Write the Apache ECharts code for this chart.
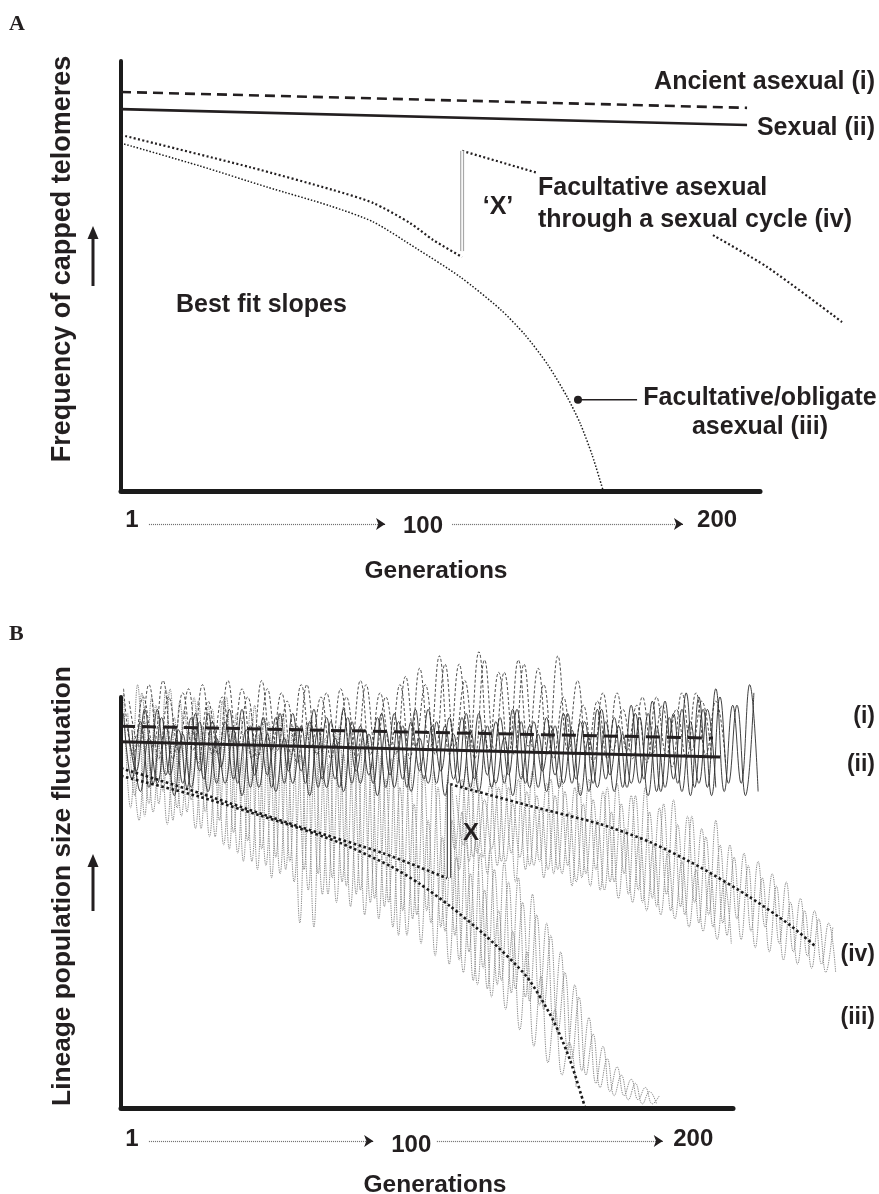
<!DOCTYPE html>
<html><head><meta charset="utf-8">
<script src="https://cdn.jsdelivr.net/npm/echarts@6.0.0/dist/echarts.min.js"></script>
<style>html,body{margin:0;padding:0;background:#fff}#c{width:879px;height:1194px}</style>
</head><body><div id="c"></div>
<script>
// ---------- data ----------
const genTicks = [1, 100, 200];

// Panel A : best-fit slopes [generation, frequency]
const aAncient  = [[-2.7, 92.8], [210.2, 89.1]];
const aSexual   = [[-2.7, 88.8], [210.2, 85.1]];
const aObligate = [[-2.7,80.9],[24.1,75.6],[46.9,70.7],[68.4,66.3],[83.0,62.6],[98.0,56.3],[112.6,49.8],[126.2,42.3],[134.7,36.3],[142.5,29.3],[149.0,21.9],[153.4,15.8],[157.5,8.4],[161.2,0.2]];
const aFacPre   = [[-2.7,82.8],[41.2,75.3],[69.4,70.0],[83.0,67.0],[95.6,62.3],[103.4,58.4],[113.3,54.4]];
const aFacPost1 = [[113.3,79.1],[138.8,74.0]];
const aFacPost2 = [[198.6,59.5],[217.0,52.1],[242.5,39.3]];
const aJumpX    = [[113.3,79.1],[113.3,55.8]];
const aPointer  = [[152.7,21.2],[172.8,21.2]];

// Panel B : best-fit slopes
const bAncient  = [[-2.9,92.9],[207.0,90.0]];
const bSexual   = [[-2.9,89.1],[209.5,85.4]];
const bFacPre   = [[-2.9,82.7],[25.1,76.6],[60.6,68.4],[90.0,62.0],[112.7,55.9]];
const bFacPost  = [[113.8,78.8],[142.1,73.5],[166.9,69.1],[184.7,64.7],[202.4,58.6],[220.1,51.3],[234.3,44.5],[243.2,39.4]];
const bObligate = [[-2.9,80.8],[25.1,75.7],[53.5,69.6],[74.8,64.5],[92.5,58.9],[103.1,54.5],[113.8,49.1],[126.9,41.6],[141.0,31.9],[150.3,21.4],[156.3,11.7],[161.6,0.2]];
const bJumpX    = [[113.4,78.8],[113.4,56.0]];

// Panel B : lineage fluctuation traces (one per half-cycle)
const solid1 = [96,80,94,78,97,81,93,79,95,82, 96,79,94,80,97,78,93,81,95,79, 96,82,94,78,95,80,97,79,93,81, 95,78,96,80,94,82,97,79,93,80, 95,78,96,81,94,79,97,80,93,78, 95,81,96,79,94,77,97,80,95,78, 98,79,96,77,99,80,97,76,100,78, 102,77,98,79,103,77];
const solid2 = [93,82,97,79,95,81,92,78,96,80, 94,83,97,79,92,81,95,78,96,82, 93,79,97,80,94,78,95,82,92,79, 96,81,94,78,97,80,93,82,95,79, 96,80,92,78,95,81,97,79,94,82, 93,78,96,80,94,79,97,81,93,78, 96,80,99,77,95,79,101,78,97,76, 100,79,98,76,101];
const solid3 = [92,77,90,79,93,76,91,78,94,77, 90,79,92,76,93,78,91,77,90,79, 93,76,92,78,90,77,94,79,91,76, 92,78,93,77,90,79,94,76,91,78, 92,77,93,79,90,76,94,78,91,77, 93,79,92,76,90,78,94,77,91,79, 95,76,93,78,96,77,94,79,97,78];
const dash1 = [102,86,100,88,104,85,101,87,103,86, 100,88,102,85,104,87,101,86,103,88, 100,85,102,87,104,86,101,88,103,85, 107,87,110,86,108,88,111,87,106,86, 109,88,107,86,110,87,104, 86,99,85,101,87,98,84,100,86,97,85,101,86,99,84];
const dash2 = [99,88,103,85,100,87,102,84,99,86, 104,88,100,85,102,87,99,84,103,86, 101,88,100,85,103,87,100,86,105,88, 103,86,108,88,104,85,109,87,106,86, 108,87,103,85,100,86,98,84,101,87, 97,85,100,86,98,83,101,87,99,85];
const obl1 = [101,73,103,71,100,74,102,70,99,72, 100,68,98,66,99,63,96,60,97,58, 95,56,96,58,93,45,94,44,91,52, 92,55,89,52,90,50,87,49,85,42, 86,46,84,48,82,44,80,42,72,38, 66,34,63,30,60,28,56,27,52,25, 45,20,38,14,30,9,22,6,15,4, 10,3,7,2,5,1,3];
const obl2 = [96,76,101,74,98,77,102,73,97,75, 99,72,97,70,100,67,95,65,98,63, 94,61,96,60,92,58,95,57,90,56, 93,54,88,53,91,51,86,50,88,48, 83,47,81,45,78,43,70,36,66,31, 62,29,58,31,55,29,50,26,47,24, 42,18,33,12,27,8,18,5,12,3, 8,2,6,1,4,1];
const obl3 = [90,70,94,72,91,69,95,71,92,68, 93,66,90,64,92,62,89,60,91,59, 88,57,90,55,86,53,88,52,84,50, 86,49,82,47,84,46,80,44,78,42, 74,40,70,37,66,35,61,33,57,30, 53,27,48,24,43,19,38,15,32,11, 24,8,16,5];
const fac1 = [81,63,80,60,82,61,79,59,81,62, 80,58,82,60,79,57,81,59,78,56, 80,58,77,55,79,57,76,53,78,51, 73,52,75,49,71,50,68,47,70,45, 64,46,62,43,60,44,57,40,55,38, 51,37,48,35,45,33];
const fac2 = [78,58,83,61,77,57,80,60,78,55, 82,59,76,56,80,58,77,54,79,57, 75,53,78,55,74,52,76,50,72,49, 74,48,69,47,71,45,66,44,64,42, 61,41,59,39,56,38,54,36,50,35, 48,34,46,33,44];
const fac3 = [76,64,79,62,75,63,78,60,74,61, 77,59,73,58,76,57,72,55,74,54, 70,53,72,51,68,50,66,48,64,47, 62,46,60,44,58,43,57,41,55,40];
// first generation and generation step of each trace
const traceStart = {solid1:-2, solid2:-0.5, solid3:1, dash1:-2, dash2:0, obl1:-2, obl2:-0.5, obl3:1, fac1:113, fac2:114.5, fac3:116};
const traceStep  = {solid1:3, solid2:3, solid3:3, dash1:3.5, dash2:3.5, obl1:2.5, obl2:2.5, obl3:2.5, fac1:2.5, fac2:2.5, fac3:2.5};

// generation spans of the dotted arrows between tick labels
const arrowSpansA = [[6.8, 87.1], [109.9, 188.4]];
const arrowSpansB = [[7.0, 86.5], [109.1, 189.2]];

// ---------- chart ----------
const FONT = '"Liberation Sans", Arial, Helvetica, sans-serif';
const INK = '#231f20';
const chart = echarts.init(document.getElementById('c'), null, {renderer: 'canvas'});

// axis scales
const A_MIN = -2.7, A_MAX = 214.6, B_MIN = -2.9, B_MAX = 214.1, DATA_MAX = 255, B_VMAX = 115;
const A_LEFT = 121, A_TOP = 61, A_W = 639, A_H = 430;
const B_LEFT = 121, B_TOP = 697, B_W = 612, B_H = 411;
const aPx = A_W / (A_MAX - A_MIN), bPx = B_W / (B_MAX - B_MIN);

function trace(name, vals) {
  const s = traceStart[name], st = traceStep[name];
  return vals.map((v, i) => [s + st * i, v]);
}
const GA = 4, GB = 5; // data grids (same scales as the drawn axes, but not clipped at the axis end)
function L(data, gi, lineStyle, extra) {
  return Object.assign({type: 'line', xAxisIndex: gi, yAxisIndex: gi, data: data, symbol: 'none', showSymbol: false,
    clip: false, silent: true, animation: false, lineStyle: lineStyle, z: 5}, extra || {});
}
function T(x, y, text, size, align, extra) {
  return {type: 'text', x: x, y: y, silent: true, z: 50, style: Object.assign({text: text, fill: INK,
    font: 'bold ' + size + 'px ' + FONT, align: align, textAlign: align, verticalAlign: 'middle', textVerticalAlign: 'middle'}, extra || {})};
}
function upArrow(x, yTail, yTip) {
  return [
    {type: 'line', silent: true, shape: {x1: x, y1: yTail, x2: x, y2: yTip + 12}, style: {stroke: INK, lineWidth: 3}},
    {type: 'polygon', silent: true, shape: {points: [[x - 5.5, yTip + 13], [x + 5.5, yTip + 13], [x, yTip]]}, style: {fill: INK}}
  ];
}
function mainX(gi, min, max, margin) {
  return {gridIndex: gi, type: 'value', min: min, max: max,
    axisLine: {show: true, onZero: false, lineStyle: {color: '#1b1b1b', width: 5}},
    axisTick: {show: false}, splitLine: {show: false},
    axisLabel: {show: true, customValues: genTicks, margin: margin, color: INK, fontSize: 24, fontWeight: 'bold', fontFamily: FONT,
      formatter: v => (v === 100 ? '{lo|100}' : '{hi|' + v + '}'),
      rich: {hi: {fontSize: 24, fontWeight: 'bold', fontFamily: FONT, color: INK},
             lo: {fontSize: 24, fontWeight: 'bold', fontFamily: FONT, color: INK, padding: [6, 0, 0, 0]}}}};
}
function mainY(gi) {
  return {gridIndex: gi, type: 'value', min: 0, max: 100,
    axisLine: {show: true, onZero: false, lineStyle: {color: '#1b1b1b', width: 4}},
    axisTick: {show: false}, axisLabel: {show: false}, splitLine: {show: false}};
}
function hiddenX(gi, min, max) { return {gridIndex: gi, type: 'value', min: min, max: max, show: false}; }
function hiddenY(gi, max) { return {gridIndex: gi, type: 'value', min: 0, max: max, show: false}; }
function arrowSeries(gi, spans) {
  return [
    {type: 'lines', coordinateSystem: 'cartesian2d', xAxisIndex: gi, yAxisIndex: gi, silent: true, animation: false,
      symbol: ['none', 'none'], lineStyle: {color: '#6a6a6a', width: 1.2, type: [1, 1], opacity: 1},
      data: spans.map(s => ({coords: [[s[0], 0.5], [s[1], 0.5]]}))},
    {type: 'lines', coordinateSystem: 'cartesian2d', xAxisIndex: gi, yAxisIndex: gi, silent: true, animation: false,
      symbol: ['none', 'arrow'], symbolSize: 9, lineStyle: {color: INK, width: 1, opacity: 1},
      data: spans.map(s => ({coords: [[s[1] - 0.5, 0.5], [s[1], 0.5]]}))}
  ];
}

const grayTrace = {color: '#8a8a8a', width: 1, type: [1.3, 1]};
const dashTrace = {color: '#3a3a3a', width: 0.9, type: [3, 2]};
const solidTrace = {color: '#2a2a2a', width: 0.9};
const tr = {smooth: 0.45, z: 2};

const series = [
  // ---- Panel A ----
  L(aAncient, GA, {color: INK, width: 2.6, type: [10, 6]}),
  L(aSexual, GA, {color: INK, width: 2.6}),
  L(aObligate, GA, {color: '#1a1a1a', width: 1.5, type: [1.5, 1.8]}, {smooth: 0.25}),
  L(aFacPre, GA, {color: INK, width: 2.2, type: [2, 2.4]}, {smooth: 0.25}),
  L(aFacPost1, GA, {color: INK, width: 2.2, type: [2, 2.4]}),
  L(aFacPost2, GA, {color: INK, width: 2.2, type: [2, 2.4]}, {smooth: 0.25}),
  L(aJumpX, GA, {color: '#a8a8a8', width: 4}),
  L(aJumpX, GA, {color: '#ffffff', width: 1.6}, {z: 6}),
  L(aPointer, GA, {color: INK, width: 1.5}, {symbol: 'circle', showSymbol: true,
      symbolSize: (v, p) => (p.dataIndex === 0 ? 8 : 0), itemStyle: {color: INK}}),
  // ---- Panel B traces ----
  L(trace('obl1', obl1), GB, grayTrace, tr),
  L(trace('obl2', obl2), GB, grayTrace, tr),
  L(trace('obl3', obl3), GB, grayTrace, tr),
  L(trace('fac1', fac1), GB, grayTrace, tr),
  L(trace('fac2', fac2), GB, grayTrace, tr),
  L(trace('fac3', fac3), GB, grayTrace, tr),
  L(trace('dash1', dash1), GB, dashTrace, {smooth: 0.45, z: 3}),
  L(trace('dash2', dash2), GB, dashTrace, {smooth: 0.45, z: 3}),
  L(trace('solid1', solid1), GB, solidTrace, {smooth: 0.45, z: 3}),
  L(trace('solid2', solid2), GB, solidTrace, {smooth: 0.45, z: 3}),
  L(trace('solid3', solid3), GB, solidTrace, {smooth: 0.45, z: 3}),
  // ---- Panel B best fits ----
  L(bAncient, GB, {color: INK, width: 3, type: [14, 7]}),
  L(bSexual, GB, {color: INK, width: 3}),
  L(bObligate, GB, {color: '#1a1a1a', width: 2.6, type: [2.6, 2.6]}, {smooth: 0.25}),
  L(bFacPre, GB, {color: '#1a1a1a', width: 2.6, type: [2.6, 2.6]}, {smooth: 0.25}),
  L(bFacPost, GB, {color: '#1a1a1a', width: 2.6, type: [2.6, 2.6]}, {smooth: 0.25}),
  L(bJumpX, GB, {color: '#555', width: 4.5}),
  L(bJumpX, GB, {color: '#ffffff', width: 2}, {z: 6})
].concat(arrowSeries(2, arrowSpansA), arrowSeries(3, arrowSpansB));

const graphic = [
  T(9, 24, 'A', 22, 'left', {font: 'bold 22px "Liberation Serif", "Times New Roman", serif'}),
  T(9, 634, 'B', 22, 'left', {font: 'bold 22px "Liberation Serif", "Times New Roman", serif'}),
  Object.assign(T(63, 259, 'Frequency of capped telomeres', 27, 'center'), {rotation: Math.PI / 2}),
  Object.assign(T(63, 886, 'Lineage population size fluctuation', 26.3, 'center'), {rotation: Math.PI / 2}),
  T(875, 82, 'Ancient asexual (i)', 25, 'right'),
  T(875, 128, 'Sexual (ii)', 25, 'right'),
  T(498, 207, '\u2018X\u2019', 25, 'center'),
  T(538, 204, 'Facultative asexual\nthrough a sexual cycle (iv)', 25, 'left', {lineHeight: 32}),
  T(176, 305, 'Best fit slopes', 25, 'left'),
  T(760, 412.5, 'Facultative/obligate\nasexual (iii)', 25, 'center', {lineHeight: 28.5}),
  T(436, 571, 'Generations', 24.5, 'center'),
  T(875, 717, '(i)', 23, 'right'),
  T(875, 765, '(ii)', 23, 'right'),
  T(875, 955, '(iv)', 23, 'right'),
  T(875, 1018, '(iii)', 23, 'right'),
  T(471, 833, 'X', 24, 'center'),
  T(435, 1185, 'Generations', 24.5, 'center')
].concat(upArrow(93, 286, 226), upArrow(93, 911, 854));

chart.setOption({
  animation: false,
  backgroundColor: '#ffffff',
  grid: [
    {left: A_LEFT, top: A_TOP, width: A_W, height: A_H},
    {left: B_LEFT, top: B_TOP, width: B_W, height: B_H},
    {left: A_LEFT, top: 514, width: A_W, height: 20},
    {left: B_LEFT, top: 1131, width: B_W, height: 20},
    {left: A_LEFT, top: A_TOP, width: aPx * (DATA_MAX - A_MIN), height: A_H},
    {left: B_LEFT, top: B_TOP + B_H - B_H * B_VMAX / 100, width: bPx * (DATA_MAX - B_MIN), height: B_H * B_VMAX / 100}
  ],
  xAxis: [mainX(0, A_MIN, A_MAX, 17), mainX(1, B_MIN, B_MAX, 19), hiddenX(2, A_MIN, A_MAX), hiddenX(3, B_MIN, B_MAX),
          hiddenX(4, A_MIN, DATA_MAX), hiddenX(5, B_MIN, DATA_MAX)],
  yAxis: [mainY(0), mainY(1), hiddenY(2, 1), hiddenY(3, 1), hiddenY(4, 100), hiddenY(5, B_VMAX)],
  series: series,
  graphic: graphic
});
</script></body></html>
